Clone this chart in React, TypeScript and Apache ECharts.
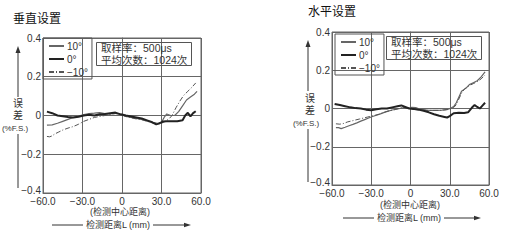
import React, { useEffect, useRef } from "react";
import * as echarts from "echarts";

// ---------- data ----------
const xTicks = [-60, -30, 0, 30, 60];
const xTickLabels = ["−60.0", "−30.0", "0", "30.0", "60.0"];
const yTicks = [-0.4, -0.2, 0, 0.2, 0.4];
const yTickLabels = ["−0.4", "−0.2", "0", "0.2", "0.4"];
const seriesNames = ["10°", "0°", "−10°"];

// 垂直设置 (vertical)
const vP10X = [-57, -53, -49, -45, -41, -37, -33, -29, -25, -21, -17, -13, -9, -5, -1, 3, 7, 11, 15, 19, 23, 27, 30, 32, 34, 37, 40, 43, 46, 49, 52, 55, 57];
const vP10Y = [-0.05, -0.048, -0.04, -0.03, -0.02, -0.01, -0.003, 0.005, 0.01, 0.012, 0.015, 0.01, 0.008, 0.012, 0.005, -0.005, -0.01, -0.015, -0.02, -0.028, -0.035, -0.04, -0.035, -0.01, 0.008, 0.0, 0.0, 0.02, 0.05, 0.08, 0.095, 0.11, 0.125];
const v0X = [-57, -53, -49, -45, -41, -37, -33, -29, -25, -21, -17, -13, -9, -5, -1, 3, 7, 11, 15, 19, 23, 26, 28, 31, 34, 38, 42, 46, 48, 50, 52, 54, 56];
const v0Y = [0.02, 0.012, 0.0, -0.004, -0.008, -0.01, -0.006, 0.0, 0.004, 0.0, 0.006, 0.008, 0.012, 0.015, 0.006, 0.0, -0.005, -0.01, -0.015, -0.025, -0.035, -0.046, -0.042, -0.031, -0.03, -0.03, -0.03, -0.025, 0.0, 0.014, -0.004, 0.012, 0.022];
const vM10X = [-57, -55, -53, -51, -48, -45, -41, -37, -33, -29, -25, -21, -17, -13, -9, -5, -1, 3, 7, 11, 15, 19, 23, 27, 30, 33, 36, 38, 41, 44, 47, 50, 53, 56];
const vM10Y = [-0.108, -0.11, -0.105, -0.095, -0.085, -0.075, -0.065, -0.057, -0.045, -0.03, -0.02, -0.01, -0.005, 0.0, 0.005, 0.01, 0.005, -0.005, -0.012, -0.018, -0.022, -0.03, -0.038, -0.042, -0.04, -0.03, -0.015, 0.0, 0.04, 0.075, 0.105, 0.125, 0.145, 0.168];

// 水平设置 (horizontal)
const hP10X = [-57, -55, -53, -50, -47, -44, -41, -38, -35, -32, -29, -26, -23, -20, -17, -14, -11, -8, -5, -2, 1, 4, 8, 12, 16, 20, 24, 28, 31, 33, 35, 37, 39, 41, 43, 45, 48, 51, 54, 57];
const hP10Y = [-0.1, -0.1, -0.105, -0.098, -0.09, -0.083, -0.075, -0.066, -0.058, -0.05, -0.042, -0.035, -0.028, -0.02, -0.014, -0.008, -0.004, 0.0, 0.005, 0.0, 0.006, 0.005, -0.005, -0.008, -0.01, -0.01, -0.008, -0.005, 0.002, 0.01, 0.03, 0.06, 0.09, 0.1, 0.11, 0.125, 0.135, 0.145, 0.165, 0.192];
const h0X = [-58, -54, -50, -46, -42, -38, -34, -30, -26, -22, -18, -14, -10, -7, -4, -1, 2, 6, 10, 14, 18, 22, 26, 28, 30, 33, 37, 41, 44, 47, 49, 51, 53, 55, 57];
const h0Y = [0.024, 0.018, 0.012, 0.006, 0.002, 0.0, -0.006, -0.009, -0.004, 0.0, 0.0, 0.006, 0.012, 0.016, 0.008, 0.0, -0.002, -0.006, -0.012, -0.02, -0.03, -0.038, -0.044, -0.047, -0.04, -0.025, -0.022, -0.024, -0.02, 0.005, 0.018, 0.008, 0.0, 0.015, 0.03];
const hM10X = [-57, -54, -51, -48, -45, -42, -39, -36, -33, -30, -27, -24, -21, -18, -15, -12, -9, -6, -3, 0, 3, 6, 10, 14, 18, 22, 26, 30, 33, 35, 37, 39, 41, 43, 45, 48, 51, 54, 57];
const hM10Y = [-0.08, -0.082, -0.078, -0.07, -0.065, -0.06, -0.055, -0.05, -0.045, -0.04, -0.035, -0.03, -0.022, -0.015, -0.01, -0.006, 0.0, 0.006, 0.002, 0.005, 0.0, -0.005, -0.008, -0.01, -0.01, -0.01, -0.008, -0.004, 0.005, 0.02, 0.05, 0.08, 0.1, 0.11, 0.12, 0.13, 0.14, 0.155, 0.175];

const FONT = "'Liberation Sans', 'Noto Sans CJK SC', sans-serif";
const TXT = "#333";
const GRIDC = "#666";

const zip = (xs: number[], ys: number[]) => xs.map((x, i) => [x, ys[i]]);

const styles = [
  { color: "#666", width: 1.2, type: "solid" as any },
  { color: "#222", width: 2, type: "solid" as any },
  { color: "#555", width: 1, type: [5, 2, 1, 2] as any },
];

export default function App() {
  const ref = useRef<HTMLDivElement>(null);
  useEffect(() => {
    if (!ref.current) return;
    const chart = echarts.init(ref.current, undefined, { renderer: "svg" });
    const grids = [
      { left: 43, top: 38, width: 158, height: 155 },
      { left: 332, top: 32, width: 157, height: 153 },
    ];
    const xAxis = grids.map((_, i) => ({
      type: "value",
      gridIndex: i,
      min: -60,
      max: 60,
      interval: 30,
      axisLine: { show: true, onZero: false, lineStyle: { color: GRIDC, width: 1 } },
      axisTick: { show: false },
      splitLine: { show: true, lineStyle: { color: GRIDC, width: 1 } },
      axisLabel: {
        margin: 3,
        fontSize: 10,
        fontFamily: FONT,
        color: TXT,
        formatter: (v: number) => xTickLabels[xTicks.indexOf(v)] ?? "",
      },
    }));
    const yAxis = grids.map((_, i) => ({
      type: "value",
      gridIndex: i,
      min: -0.4,
      max: 0.4,
      interval: 0.2,
      axisLine: { show: true, lineStyle: { color: GRIDC, width: 1 } },
      axisTick: { show: false },
      splitLine: { show: true, lineStyle: { color: GRIDC, width: 1 } },
      axisLabel: {
        margin: 2,
        fontSize: 10,
        fontFamily: FONT,
        color: TXT,
        formatter: (v: number) => {
          const idx = yTicks.findIndex((t) => Math.abs(t - v) < 1e-9);
          if (idx < 0) return "";
          return idx === 0 ? `{lo|${yTickLabels[idx]}}` : yTickLabels[idx];
        },
        rich: {
          lo: { fontSize: 10, fontFamily: FONT, color: TXT, padding: [0, 0, 6, 0] },
        },
      },
    }));
    const sets = [
      [zip(vP10X, vP10Y), zip(v0X, v0Y), zip(vM10X, vM10Y)],
      [zip(hP10X, hP10Y), zip(h0X, h0Y), zip(hM10X, hM10Y)],
    ];
    const series: any[] = [];
    sets.forEach((group, gi) => {
      group.forEach((d, si) => {
        series.push({
          type: "line",
          name: seriesNames[si],
          xAxisIndex: gi,
          yAxisIndex: gi,
          data: d,
          symbol: "none",
          smooth: false,
          color: styles[si].color,
          itemStyle: { color: styles[si].color },
          lineStyle: styles[si],
          z: si === 1 ? 4 : 3,
        });
      });
    });
    const legendBase = {
      orient: "vertical",
      data: seriesNames,
      borderColor: "#555",
      borderWidth: 1,
      borderRadius: 0,
      padding: [3, 4, 2, 5],
      itemGap: 3,
      itemWidth: 15,
      itemHeight: 9,
      selectedMode: false,
      itemStyle: { opacity: 0, borderWidth: 0 },
      textStyle: { fontSize: 10, fontFamily: FONT, color: TXT, padding: [0, 0, 0, -2] },
    };
    const infoStyle = { fontSize: 10.5, fontWeight: "normal", fontFamily: FONT, color: TXT, lineHeight: 12 };
    const infoTitle = (left: number, top: number) => ({
      text: "取样率：500μs",
      subtext: "平均次数：1024次",
      left,
      top,
      itemGap: 0,
      padding: [0, 4, 0, 5],
      borderColor: "#555",
      borderWidth: 1,
      textStyle: infoStyle,
      subtextStyle: infoStyle,
    });
    const small = (x: number, y: number, text: string, size: number, extra: any = {}) => ({
      type: "text",
      x,
      y,
      style: { text, fontSize: size, fontFamily: FONT, fill: TXT, align: "center", verticalAlign: "middle", ...extra },
    });
    const option: any = {
      animation: false,
      grid: grids.map((g) => ({ ...g, show: true, borderColor: GRIDC, borderWidth: 1 })),
      xAxis,
      yAxis,
      series,
      legend: [
        { ...legendBase, left: 43, top: 38 },
        { ...legendBase, left: 335, top: 34 },
      ],
      title: [
        { text: "垂直设置", left: 13, top: 13, padding: 0, textStyle: { fontSize: 12, fontWeight: "normal", fontFamily: FONT, color: "#111" } },
        { text: "水平设置", left: 308, top: 6, padding: 0, textStyle: { fontSize: 12, fontWeight: "normal", fontFamily: FONT, color: "#111" } },
        infoTitle(96, 42),
        infoTitle(386, 36),
      ],
      graphic: [
        // left y arrow
        { type: "line", shape: { x1: 18, y1: 97, x2: 18, y2: 52 }, style: { stroke: "#333", lineWidth: 1 } },
        { type: "polygon", shape: { points: [[15.5, 53], [18, 46], [20.5, 53]] }, style: { fill: "#333" } },
        { type: "line", shape: { x1: 18, y1: 134, x2: 18, y2: 188 }, style: { stroke: "#333", lineWidth: 1 } },
        small(18, 109, "误\n差", 10, { lineHeight: 12 }),
        small(15, 128, "(%F.S.)", 8),
        // right y arrow
        { type: "line", shape: { x1: 308, y1: 91, x2: 308, y2: 46 }, style: { stroke: "#333", lineWidth: 1 } },
        { type: "polygon", shape: { points: [[305.5, 47], [308, 40], [310.5, 47]] }, style: { fill: "#333" } },
        { type: "line", shape: { x1: 308, y1: 129, x2: 308, y2: 182 }, style: { stroke: "#333", lineWidth: 1 } },
        small(310, 104, "误\n差", 10, { lineHeight: 12 }),
        small(306, 123, "(%F.S.)", 8),
        // left x titles
        small(120, 212, "(检测中心距离)", 9),
        small(118, 225, "检测距离L (mm)", 9),
        { type: "line", shape: { x1: 52, y1: 225, x2: 83, y2: 225 }, style: { stroke: "#333", lineWidth: 1 } },
        { type: "line", shape: { x1: 153, y1: 225, x2: 185, y2: 225 }, style: { stroke: "#333", lineWidth: 1 } },
        { type: "polygon", shape: { points: [[184, 222.8], [191, 225], [184, 227.2]] }, style: { fill: "#333" } },
        // right x titles
        small(410, 205, "(检测中心距离)", 9),
        small(409, 218, "检测距离L (mm)", 9),
        { type: "line", shape: { x1: 343, y1: 218, x2: 374, y2: 218 }, style: { stroke: "#333", lineWidth: 1 } },
        { type: "line", shape: { x1: 444, y1: 218, x2: 475, y2: 218 }, style: { stroke: "#333", lineWidth: 1 } },
        { type: "polygon", shape: { points: [[474, 215.8], [481, 218], [474, 220.2]] }, style: { fill: "#333" } },
      ],
    };
    chart.setOption(option);
    return () => chart.dispose();
  }, []);
  return (
    <div
      ref={ref}
      style={{ position: "absolute", left: 0, top: 0, width: 511, height: 240, background: "#fff" }}
    />
  );
}
